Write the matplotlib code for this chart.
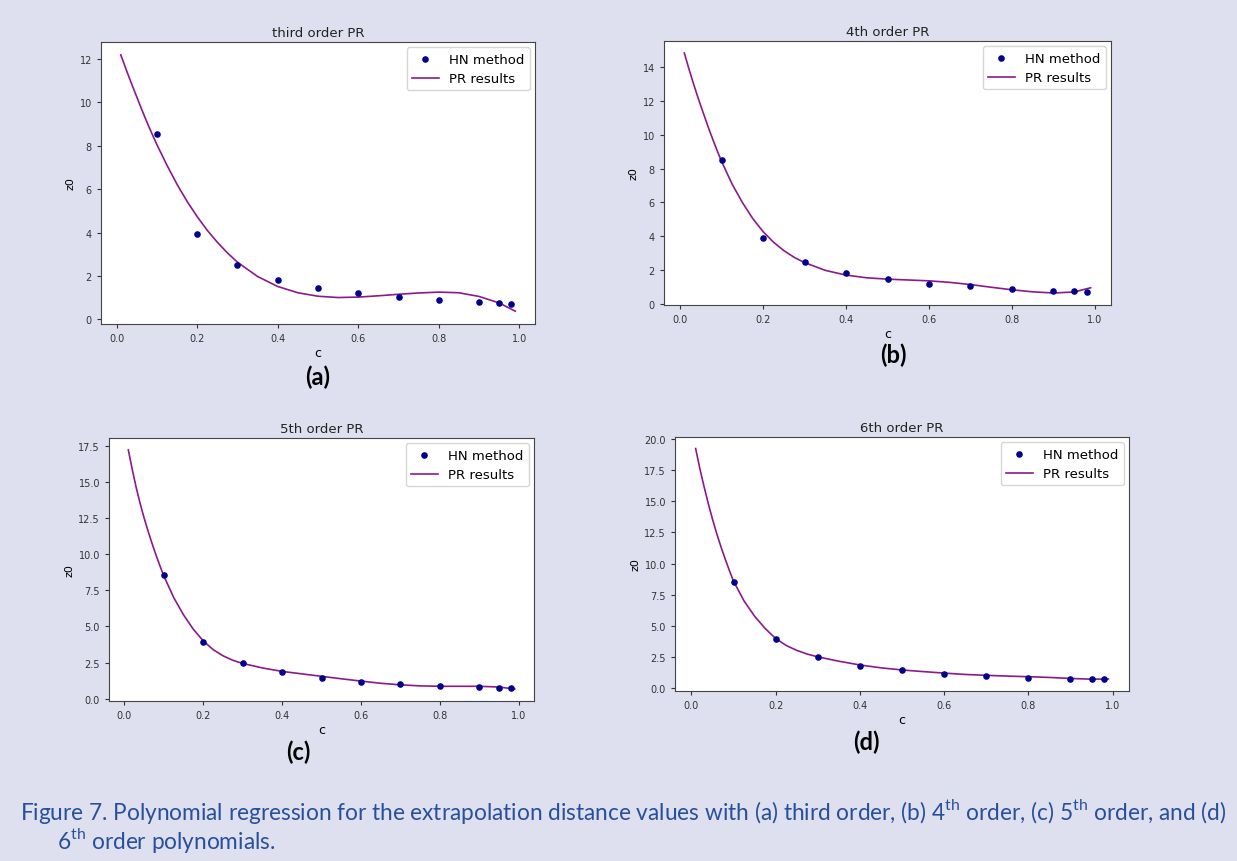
import numpy as np
import matplotlib
matplotlib.use("Agg")
import matplotlib.pyplot as plt

plt.rcParams["mathtext.fontset"] = "custom"
plt.rcParams["mathtext.rm"] = "Lato"

# HN method points (same in every panel)
c_hn = [0.1, 0.2, 0.3, 0.4, 0.5, 0.6, 0.7, 0.8, 0.9, 0.95, 0.98]
z_hn = [8.53, 3.92, 2.50, 1.82, 1.44, 1.19, 1.03, 0.87, 0.78, 0.75, 0.72]

# PR curves
c_pr = [0.01, 0.02, 0.03, 0.04, 0.05, 0.06, 0.07, 0.08, 0.09, 0.1,
        0.125, 0.15, 0.175, 0.2, 0.225, 0.25, 0.275, 0.3, 0.35, 0.4, 0.45,
        0.5, 0.55, 0.6, 0.65, 0.7, 0.75, 0.8, 0.85, 0.9, 0.95, 0.99]
z_pr3 = [12.2, 11.7, 11.2, 10.72, 10.25, 9.78, 9.32, 8.88, 8.46, 8.05,
         7.1, 6.22, 5.43, 4.73, 4.1, 3.55, 3.06, 2.63, 1.97, 1.51, 1.22,
         1.06, 1.0, 1.02, 1.08, 1.15, 1.21, 1.25, 1.22, 1.05, 0.75, 0.37]
z_pr4 = [14.85, 14.0, 13.2, 12.43, 11.7, 11.0, 10.3, 9.65, 9.02, 8.42,
         7.1, 6.0, 5.05, 4.27, 3.65, 3.15, 2.75, 2.44, 1.98, 1.7, 1.54,
         1.46, 1.41, 1.36, 1.27, 1.14, 0.98, 0.83, 0.71, 0.64, 0.7, 0.95]
z_pr5 = [17.2, 15.85, 14.6, 13.5, 12.5, 11.6, 10.75, 9.95, 9.2, 8.5,
         7.0, 5.8, 4.8, 4.0, 3.4, 2.97, 2.66, 2.44, 2.13, 1.89, 1.72,
         1.55, 1.38, 1.22, 1.07, 0.96, 0.89, 0.86, 0.86, 0.86, 0.81, 0.67]
z_pr6 = [19.2, 17.6, 16.15, 14.8, 13.55, 12.4, 11.35, 10.38, 9.45, 8.58,
         7.0, 5.78, 4.8, 4.0, 3.44, 3.05, 2.75, 2.53, 2.18, 1.88, 1.65,
         1.48, 1.35, 1.23, 1.12, 1.05, 0.99, 0.94, 0.88, 0.8, 0.74, 0.76]

titles = ["third order PR", "4th order PR", "5th order PR", "6th order PR"]
tags = ["(a)", "(b)", "(c)", "(d)"]
curves = [z_pr3, z_pr4, z_pr5, z_pr6]

W, H = 1237, 862
# axes boxes in pixels: left, top, right, bottom
boxes = [(101, 43, 535, 325), (664, 42, 1111, 306),
         (109, 439, 534, 702), (675, 438, 1129, 692)]
tag_pos = [(318, 377), (893, 355), (298, 752), (866, 742)]

bg = "#dee0ef"
fig = plt.figure(figsize=(W / 100, H / 100), dpi=100, facecolor=bg)

for i in range(4):
    l, t, r, b = boxes[i]
    ax = fig.add_axes([l / W, 1 - b / H, (r - l) / W, (b - t) / H])
    ax.scatter(c_hn, z_hn, s=14, color="#00008b", label="HN method", zorder=3)
    ax.plot(c_pr, curves[i], color="#8b1a8b", lw=1.2, label="PR results")
    ax.set_title(titles[i], fontsize=9.5, pad=4, color="#222222")
    ax.set_xlabel("c", fontsize=9, labelpad=2)
    ax.set_ylabel("z0", fontsize=8, labelpad=3)
    ax.tick_params(labelsize=7, length=3, colors="#333333")
    for s in ax.spines.values():
        s.set_color("#444444")
    ax.legend(loc="upper right", fontsize=9.5, borderaxespad=0.4,
              handlelength=2.0, scatterpoints=1)
    tx, ty = tag_pos[i]
    fig.text(tx / W, 1 - ty / H, tags[i], fontsize=17, fontweight="bold",
             family="Lato", ha="center", va="center")

cap_color = "#27509b"
fig.text(20 / W, 1 - 812 / H,
         "Figure 7. Polynomial regression for the extrapolation distance values "
         "with (a) third order, (b) 4$^{\\mathrm{th}}$ order, (c) 5$^{\\mathrm{th}}$ "
         "order, and (d)",
         fontsize=16.25, family="Lato", color=cap_color, va="center")
fig.text(57 / W, 1 - 841 / H, "6$^{\\mathrm{th}}$ order polynomials.",
         fontsize=16.25, family="Lato", color=cap_color, va="center")

fig.savefig("out.png", dpi=100, facecolor=bg)
